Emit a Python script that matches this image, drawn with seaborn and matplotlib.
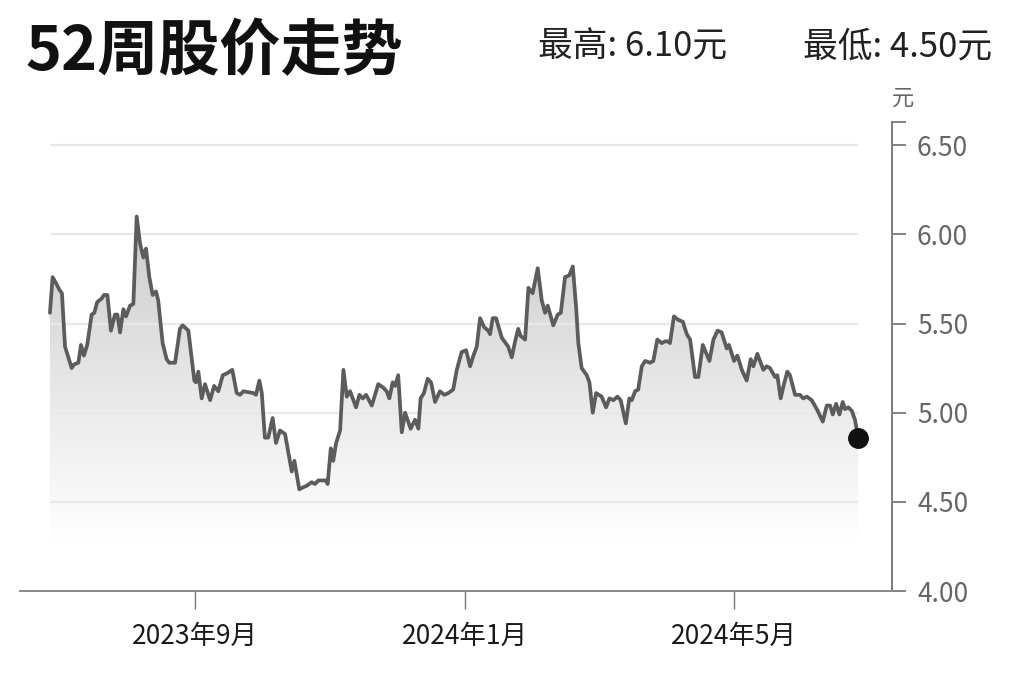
import numpy as np
import pandas as pd
import matplotlib
matplotlib.use("Agg")
import matplotlib.pyplot as plt
import matplotlib.dates as mdates
from matplotlib.ticker import FixedLocator
from matplotlib.colors import LinearSegmentedColormap
import seaborn as sns

# ---- data ----
REF_DATE = "2023-09-01"
day_offset = [-65.3,-64.1,-62.3,-61.1,-59.9,-58.5,-57.0,-55.5,-54.5,-52.5,
              -51.3,-50.0,-48.5,-46.5,-45.3,-44.0,-42.0,-40.9,-39.4,-37.8,
              -36.0,-34.9,-33.7,-32.2,-31.0,-29.2,-27.7,-26.2,-24.7,-23.2,
              -22.0,-20.5,-19.0,-17.5,-16.5,-14.5,-12.7,-11.5,-8.9,-6.7,
              -5.5,-2.9,-0.2,0.5,1.6,3.1,4.6,6.9,8.7,10.6,
              12.6,14.4,16.9,18.9,20.4,21.9,26.4,27.6,29.1,30.2,
              31.6,33.1,35.1,36.6,38.4,40.7,43.7,44.9,47.1,48.6,
              50.4,52.7,54.2,55.7,59.1,59.9,61.3,62.4,63.7,65.5,
              67.0,68.5,70.0,72.7,74.2,75.7,77.2,79.8,82.7,85.0,
              86.5,87.7,89.2,90.3,91.7,93.3,94.8,97.3,99.3,100.8,
              101.8,103.3,105.0,106.5,108.3,110.5,112.5,114.3,116.5,118.1,
              120.3,122.3,124.1,125.6,127.1,128.6,130.4,132.3,133.1,134.3,
              135.8,138.4,141.3,142.9,144.4,145.8,146.9,148.9,150.4,152.3,
              154.6,156.4,157.9,159.1,161.6,163.6,165.0,166.9,168.8,170.4,
              171.9,172.9,174.4,176.7,177.9,179.4,180.9,183.4,185.4,186.9,
              188.7,190.5,192.0,194.3,195.9,197.0,198.5,199.9,201.5,203.0,
              205.2,206.7,208.5,210.5,212.0,213.2,214.2,216.0,218.0,220.0,
              221.8,223.3,225.5,227.0,229.0,230.0,232.0,233.8,235.7,237.5,
              239.8,240.8,243.1,244.6,246.6,248.8,250.6,251.8,253.6,256.3,
              257.8,259.3,261.6,262.6,264.1,265.6,267.1,268.3,270.6,272.8,
              274.3,275.9,278.1,280.4,283.1,284.9,286.4,287.6,289.1,290.6,
              292.1,293.1,294.6,296.2,297.6,299.1]
price = [5.56,5.76,5.72,5.69,5.67,5.37,5.31,5.25,5.27,5.28,
         5.38,5.32,5.38,5.55,5.56,5.62,5.64,5.66,5.66,5.46,
         5.55,5.55,5.45,5.58,5.54,5.60,5.61,6.10,5.95,5.87,
         5.92,5.76,5.66,5.68,5.63,5.39,5.30,5.28,5.28,5.47,
         5.49,5.46,5.18,5.17,5.23,5.08,5.16,5.07,5.15,5.12,
         5.21,5.22,5.24,5.11,5.10,5.12,5.11,5.10,5.18,5.11,
         4.86,4.86,4.97,4.83,4.90,4.88,4.67,4.73,4.57,4.58,
         4.59,4.61,4.60,4.62,4.62,4.60,4.80,4.73,4.83,4.90,
         5.24,5.09,5.12,5.03,5.10,5.08,5.10,5.04,5.16,5.14,
         5.12,5.08,5.17,5.15,5.21,4.89,5.00,4.91,4.96,4.91,
         5.08,5.11,5.19,5.17,5.06,5.12,5.10,5.11,5.13,5.24,
         5.34,5.35,5.26,5.32,5.37,5.53,5.48,5.46,5.44,5.53,
         5.53,5.42,5.37,5.31,5.40,5.47,5.43,5.41,5.70,5.67,
         5.81,5.63,5.56,5.60,5.49,5.55,5.56,5.76,5.77,5.82,
         5.59,5.39,5.25,5.21,5.17,5.00,5.11,5.09,5.03,5.08,
         5.07,5.09,5.07,4.94,5.08,5.07,5.12,5.13,5.26,5.29,
         5.28,5.29,5.41,5.39,5.40,5.40,5.39,5.54,5.52,5.51,
         5.44,5.41,5.20,5.20,5.38,5.35,5.29,5.41,5.46,5.45,
         5.36,5.38,5.29,5.32,5.24,5.18,5.30,5.26,5.33,5.24,
         5.26,5.25,5.20,5.21,5.08,5.16,5.23,5.21,5.10,5.10,
         5.08,5.09,5.07,5.02,4.95,5.04,5.04,4.99,5.05,4.99,
         5.06,5.02,5.03,5.01,4.96,4.86]

title = "52周股价走势"
high_label = "最高: 6.10元"
low_label = "最低: 4.50元"
unit_label = "元"
y_ticks = [4.00, 4.50, 5.00, 5.50, 6.00, 6.50]
y_ticklabels = ["4.00", "4.50", "5.00", "5.50", "6.00", "6.50"]
x_tick_dates = ["2023-09-01", "2024-01-01", "2024-05-01"]
x_ticklabels = ["2023年9月", "2024年1月", "2024年5月"]
x_range = [-78.8, 314.3]
y_range = [4.0, 6.63]

# ---- build ----
ref = pd.Timestamp(REF_DATE)
df = pd.DataFrame({"date": ref + pd.to_timedelta(day_offset, unit="D"),
                   "price": price})

sns.set_theme(style="white")
plt.rcParams["font.family"] = ["Noto Sans CJK SC", "DejaVu Sans"]
plt.rcParams["axes.unicode_minus"] = False

fig = plt.figure(figsize=(10.24, 6.82), dpi=100)
fig.patch.set_facecolor("white")
ax = fig.add_axes([20/1024, (682-591)/682, (892-20)/1024, (591-122)/682])
ax.set_facecolor("white")

xd = mdates.date2num(df["date"])
x0, x1 = xd[0], xd[-1]

# gradient fill under the line
poly = ax.fill_between(df["date"], df["price"], y_range[0],
                       facecolor="none", edgecolor="none")
cmap = LinearSegmentedColormap.from_list(
    "g", [(0.0, "#ffffff"), (0.13, "#ffffff"), (0.5, "#eaeaea"), (1.0, "#cbcbcb")])
grad = np.linspace(0, 1, 256).reshape(-1, 1)
im = ax.imshow(grad, extent=[x0, x1, y_range[0], max(price)], origin="lower",
               aspect="auto", cmap=cmap, zorder=1, interpolation="bilinear")
path = poly.get_paths()[0]
im.set_clip_path(path, transform=ax.transData)

# horizontal gridlines over the data span
for yv in y_ticks[1:]:
    ax.plot([df["date"].iloc[0], df["date"].iloc[-1]], [yv, yv],
            color="#e8e8e8", lw=1.6, zorder=2, solid_capstyle="butt")

sns.lineplot(data=df, x="date", y="price", ax=ax, color="#5c5c5c",
             lw=2.7, zorder=3, estimator=None, sort=False)
ax.plot(df["date"].iloc[-1], df["price"].iloc[-1], "o", color="#111111",
        markersize=14, zorder=4)

ax.set_xlim(ref + pd.Timedelta(days=x_range[0]), ref + pd.Timedelta(days=x_range[1]))
ax.set_ylim(*y_range)

# axes styling
for s in ["left", "top"]:
    ax.spines[s].set_visible(False)
ax.spines["right"].set_color("#7a7a7a")
ax.spines["right"].set_linewidth(1.4)
ax.spines["bottom"].set_color("#8a8a8a")
ax.spines["bottom"].set_linewidth(1.4)

ax.yaxis.tick_right()
ax.set_yticks(y_ticks)
ax.set_yticklabels(y_ticklabels)
ax.yaxis.set_minor_locator(FixedLocator([y_range[1]]))
ax.tick_params(axis="y", which="both", direction="out", length=10, width=1.3,
               color="#7a7a7a", pad=8, labelsize=19, labelcolor="#666666",
               right=True, left=False)

ax.set_xticks(pd.to_datetime(x_tick_dates))
ax.set_xticklabels(x_ticklabels)
ax.tick_params(axis="x", which="major", direction="out", length=13, width=1.0,
               color="#777777", pad=10, labelsize=19, labelcolor="#1a1a1a",
               bottom=True)
ax.set_xlabel("")
ax.set_ylabel("")
ax.grid(False)

# texts
fig.text(25/1024, 1 - 52/682, title, ha="left", va="center",
         fontsize=44, fontweight="bold", color="#111111")
fig.text(538/1024, 1 - 47/682, high_label, ha="left", va="center",
         fontsize=25, color="#222222")
fig.text(803/1024, 1 - 47/682, low_label, ha="left", va="center",
         fontsize=25, color="#222222")
fig.text(903/1024, 1 - 98/682, unit_label, ha="center", va="center",
         fontsize=16, color="#666666")

fig.savefig("out.png", dpi=100, facecolor="white")
